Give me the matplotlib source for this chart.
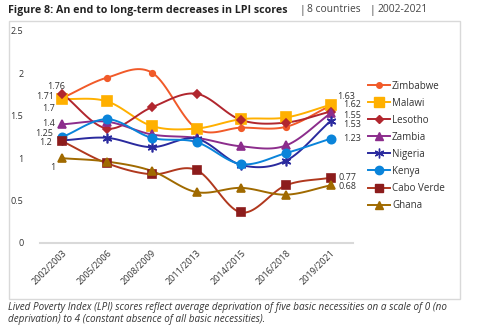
import numpy as np
import matplotlib
matplotlib.use("Agg")
import matplotlib.pyplot as plt
from matplotlib.patches import Rectangle
from matplotlib.lines import Line2D

plt.rcParams['font.family'] = ['Open Sans', 'DejaVu Sans']

periods = ["2002/2003", "2005/2006", "2008/2009", "2011/2013",
           "2014/2015", "2016/2018", "2019/2021"]

zimbabwe = [1.71, 1.95, 2.01, 1.35, 1.36, 1.37, 1.62]
malawi = [1.70, 1.67, 1.38, 1.35, 1.46, 1.48, 1.63]
lesotho = [1.76, 1.35, 1.60, 1.76, 1.45, 1.42, 1.55]
zambia = [1.40, 1.43, 1.28, 1.24, 1.14, 1.15, 1.53]
nigeria = [1.21, 1.24, 1.13, 1.23, 0.92, 0.97, 1.44]
kenya = [1.25, 1.46, 1.24, 1.19, 0.93, 1.06, 1.23]
cabo_verde = [1.20, 0.94, 0.81, 0.86, 0.36, 0.68, 0.77]
ghana = [1.00, 0.96, 0.85, 0.60, 0.65, 0.57, 0.68]

series = [
    ("Zimbabwe", zimbabwe, "#F15A29", "#F15A29", "o", 4),
    ("Malawi", malawi, "#FFB000", "#FFB000", "s", 7),
    ("Lesotho", lesotho, "#B1262E", "#B1262E", "D", 4),
    ("Zambia", zambia, "#8C2D8C", "#8C2D8C", "^", 6),
    ("Nigeria", nigeria, "#2A2A9E", "#2A2A9E", (6, 2, 0), 7),
    ("Kenya", kenya, "#0A84DA", "#0A84DA", "o", 6),
    ("Cabo Verde", cabo_verde, "#B0381E", "#8C1C1C", "s", 6),
    ("Ghana", ghana, "#A06A00", "#A06A00", "^", 6),
]

# data labels at first and last points: text, x/y offset in pixels
first_labels = {"Lesotho": ("1.76", -6, 7), "Zimbabwe": ("1.71", -17, 1),
                "Malawi": ("1.7", -14, -10), "Zambia": ("1.4", -14, 1),
                "Kenya": ("1.25", -18, 4), "Cabo Verde": ("1.2", -17, -1),
                "Ghana": ("1", -10, -9)}
last_labels = {"Malawi": ("1.63", 6, 8), "Zimbabwe": ("1.62", 12, 1),
               "Lesotho": ("1.55", 12, -4), "Zambia": ("1.53", 12, -11),
               "Kenya": ("1.23", 12, 0), "Cabo Verde": ("0.77", 8, 0),
               "Ghana": ("0.68", 8, -1)}


def smooth(xs, ys, n=20):
    # catmull-rom through the points, like excel's smoothed line
    xs = np.asarray(xs, float)
    ys = np.asarray(ys, float)
    px = np.concatenate([[2 * xs[0] - xs[1]], xs, [2 * xs[-1] - xs[-2]]])
    py = np.concatenate([[2 * ys[0] - ys[1]], ys, [2 * ys[-1] - ys[-2]]])
    outx, outy = [], []
    t = np.linspace(0, 1, n)
    for i in range(1, len(px) - 2):
        for p, out in ((px, outx), (py, outy)):
            p0, p1, p2, p3 = p[i - 1], p[i], p[i + 1], p[i + 2]
            out.extend(0.5 * (2 * p1 + (-p0 + p2) * t
                              + (2 * p0 - 5 * p1 + 4 * p2 - p3) * t ** 2
                              + (-p0 + 3 * p1 - 3 * p2 + p3) * t ** 3))
    return outx, outy


fig = plt.figure(figsize=(4.84, 3.34), dpi=100)
ax = fig.add_axes([40 / 484, 1 - 243 / 334, 313 / 484, 212 / 334])

x = np.arange(len(periods))
handles = []
for name, vals, lc, mc, mk, ms in series:
    sx, sy = smooth(x, vals)
    ax.plot(sx, sy, color=lc, lw=1.4, zorder=2)
    ax.plot(x, vals, ls="none", marker=mk, ms=ms, color=mc, mec=mc,
            mew=1.2, zorder=3)
    handles.append(Line2D([0], [0], color=lc, lw=1.4, marker=mk, ms=ms,
                          mfc=mc, mec=mc))
    if name in first_labels:
        t, dx, dy = first_labels[name]
        ax.annotate(t, (x[0], vals[0]), xytext=(dx, dy),
                    textcoords="offset pixels", ha="center", va="center",
                    fontsize=6.5, color="#333333")
    if name in last_labels:
        t, dx, dy = last_labels[name]
        ax.annotate(t, (x[-1], vals[-1]), xytext=(dx, dy),
                    textcoords="offset pixels", ha="left", va="center",
                    fontsize=6.5, color="#333333")

ax.set_xlim(-0.5, len(periods) - 0.5)
ax.set_ylim(0, 2.5)
ax.set_yticks([0, 0.5, 1, 1.5, 2, 2.5])
ax.set_yticklabels(["0", "0.5", "1", "1.5", "2", "2.5"])
ax.set_xticks(x)
ax.set_xticklabels(periods, rotation=45, ha="right", rotation_mode="anchor")
ax.tick_params(length=0, labelsize=6.5, colors="#333333")
ax.tick_params(axis="y", pad=12)
ax.tick_params(axis="x", pad=4)
for s in ["top", "right", "left"]:
    ax.spines[s].set_visible(False)
ax.spines["bottom"].set_color("#d9d9d9")
ax.spines["bottom"].set_linewidth(1.5)
ax.patch.set_visible(False)

fig.legend(handles, [s[0] for s in series], loc="upper left",
           bbox_to_anchor=(359 / 484, 1 - 72 / 334), frameon=False,
           fontsize=7, handlelength=2.3, labelspacing=0.62,
           handletextpad=0.2, labelcolor="#333333")

fig.patches.append(Rectangle((9 / 484, 1 - 299 / 334), 451 / 484, 278 / 334,
                             transform=fig.transFigure, fill=False,
                             edgecolor="#d9d9d9", lw=1))

fig.text(8 / 484, 1 - 10 / 334, "Figure 8: An end to long-term decreases in LPI scores",
         fontsize=7.7, fontweight="bold", va="center", color="#222222")
for tx, s in [(299, "|"), (307, "8 countries"), (369, "|"), (377, "2002-2021")]:
    fig.text(tx / 484, 1 - 10 / 334, s, fontsize=7.4, va="center", color="#444444")
fig.text(8 / 484, 1 - 302 / 334,
         "Lived Poverty Index (LPI) scores reflect average deprivation of five basic necessities on a scale of 0 (no\n"
         "deprivation) to 4 (constant absence of all basic necessities).",
         fontsize=7.1, style="italic", va="top", color="#333333", linespacing=1.1)

fig.savefig("out.png", dpi=100)
